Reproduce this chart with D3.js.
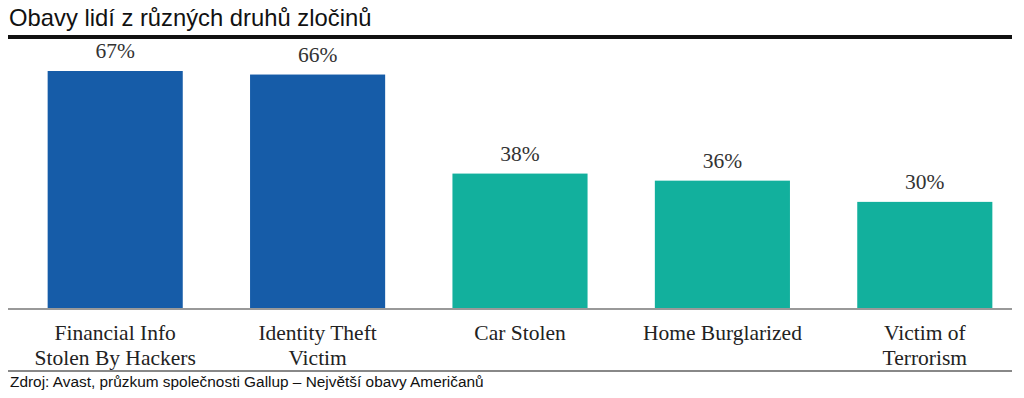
<!DOCTYPE html>
<html>
<head>
<meta charset="utf-8">
<script src="https://cdn.jsdelivr.net/npm/d3@7"></script>
<style>
  body { margin: 0; background: #fff; }
  .title { font-family: "Liberation Sans", Arial, sans-serif; font-size: 23.8px; fill: #111; }
  .source { font-family: "Liberation Sans", Arial, sans-serif; font-size: 15.4px; fill: #111; }
  .val { font-family: "Liberation Serif", "Times New Roman", serif; font-size: 21.5px; fill: #333; }
  .cat { font-family: "Liberation Serif", "Times New Roman", serif; font-size: 21.5px; fill: #222; }
</style>
</head>
<body>
<div class="chart"></div>
<script>
// DATA ------------------------------
const categories = [
  ["Financial Info", "Stolen By Hackers"],
  ["Identity Theft", "Victim"],
  ["Car Stolen"],
  ["Home Burglarized"],
  ["Victim of", "Terrorism"]
];
const values = [67, 66, 38, 36, 30];
const barColors = ["#165ca8", "#165ca8", "#12b09d", "#12b09d", "#12b09d"];

const width = 1024, height = 398;
const baseY = 308;

const svg = d3.select(".chart").append("svg")
  .attr("width", width)
  .attr("height", height);

// title + rule
svg.append("text").attr("class", "title")
  .attr("x", 9).attr("y", 26)
  .text("Obavy lidí z různých druhů zločinů");
svg.append("rect")
  .attr("x", 8).attr("y", 35).attr("width", 1004).attr("height", 4)
  .attr("fill", "#111");

// scales
const idx = values.map((d, i) => i);
const xScale = d3.scaleBand()
  .domain(idx)
  .range([14, 1026])
  .paddingInner(0.3325)
  .paddingOuter(0.3325 / 2);

const yScale = d3.scaleLinear()
  .domain([0, 67])
  .range([baseY, 71]);

// bars
svg.selectAll(".bar")
  .data(values)
  .enter().append("rect")
  .attr("class", "bar")
  .attr("x", (d, i) => xScale(i))
  .attr("y", d => yScale(d))
  .attr("width", xScale.bandwidth())
  .attr("height", d => baseY - yScale(d))
  .attr("fill", (d, i) => barColors[i]);

// value labels
svg.selectAll(".val")
  .data(values)
  .enter().append("text")
  .attr("class", "val")
  .attr("text-anchor", "middle")
  .attr("x", (d, i) => xScale(i) + xScale.bandwidth() / 2)
  .attr("y", d => yScale(d) - 13)
  .text(d => d + "%");

// axis line
svg.append("rect")
  .attr("x", 8).attr("y", baseY).attr("width", 1004).attr("height", 2)
  .attr("fill", "#999");

// category labels
const cats = svg.selectAll(".cat")
  .data(categories)
  .enter().append("text")
  .attr("class", "cat")
  .attr("text-anchor", "middle")
  .attr("x", (d, i) => xScale(i) + xScale.bandwidth() / 2)
  .attr("y", 340);
cats.selectAll("tspan")
  .data(d => d)
  .enter().append("tspan")
  .attr("x", function() { return d3.select(this.parentNode).attr("x"); })
  .attr("dy", (d, j) => j === 0 ? 0 : 25)
  .text(d => d);

// bottom rule + source
svg.append("rect")
  .attr("x", 8).attr("y", 370).attr("width", 1004).attr("height", 2)
  .attr("fill", "#888");
svg.append("text").attr("class", "source")
  .attr("x", 10).attr("y", 387)
  .text("Zdroj: Avast, průzkum společnosti Gallup – Největší obavy Američanů");
</script>
</body>
</html>
